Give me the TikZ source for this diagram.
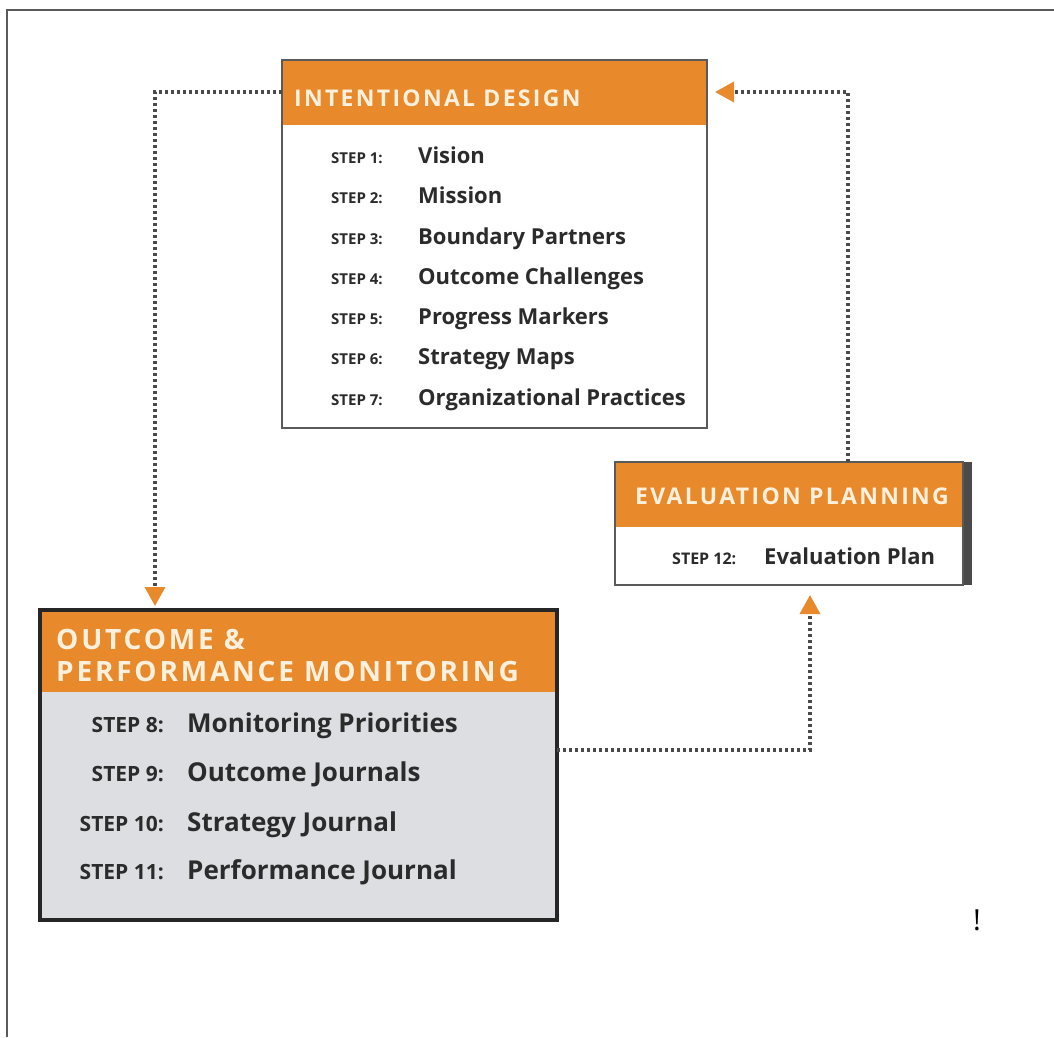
\documentclass[tikz,border=0pt]{standalone}
\usepackage{fontspec}
\setmainfont{Open Sans}
\newfontfamily\headfont[LetterSpace=10]{Open Sans}
\usetikzlibrary{arrows.meta}
\definecolor{mcorange}{HTML}{E8892B}
\definecolor{mcgray}{HTML}{DDDEE2}
\definecolor{mchead}{HTML}{FDF1DE}
\definecolor{mctext}{HTML}{2B2B2B}
\definecolor{mcdots}{HTML}{4A4A4A}
\definecolor{mcframe}{HTML}{5A5A5A}
\tikzset{
  stagebox/.style={draw=#1, inner sep=0pt, outer sep=0pt},
  headtext/.style={anchor=base west, inner sep=0pt, text=mchead, font=\headfont\bfseries\fontsize{#1}{#1}\selectfont},
  steplabel/.style={inner sep=0pt, text=mctext, font=\bfseries\fontsize{#1}{#1}\selectfont},
  stepitem/.style={anchor=base west, inner sep=0pt, text=mctext, font=\bfseries\fontsize{#1}{#1}\selectfont},
  flow/.style={draw=mcdots, line width=3.5pt, dash pattern=on 3pt off 3pt,
    -{Triangle[width=20pt,length=19pt,color=mcorange]}}
}
\begin{document}
\begin{tikzpicture}[x=1pt, y=-1pt]
\useasboundingbox (0,0) rectangle (1054,1037);
% Frame
\draw[line width=2pt, mcframe] (7,1037) -- (7,10) -- (1054,10);
% Fills
\fill[white] (282,60) rectangle (707,428);
\fill[mcorange] (282,60) rectangle (707,125);
\fill[white] (615,462) rectangle (963,585);
\fill[mcorange] (615,462) rectangle (963,527);
\fill[mcdots] (963,462) rectangle (972,585);
\fill[mcgray] (40,610) rectangle (557,920);
\fill[mcorange] (40,610) rectangle (557,692);
% Boxes
\node[stagebox=mcframe, line width=2.5pt, minimum width=425pt, minimum height=368pt, anchor=north west] (id) at (282,60) {};
\node[stagebox=mcframe, line width=2.5pt, minimum width=348pt, minimum height=123pt, anchor=north west] (ep) at (615,462) {};
\node[stagebox=black!85, line width=4pt, minimum width=517pt, minimum height=310pt, anchor=north west] (om) at (40,610) {};
% Intentional design
\node[headtext=23] (idhead) at (294,106) {INTENTIONAL DESIGN};
\node[steplabel=15, anchor=base west] (s1) at (331,163) {STEP 1:};
\node[stepitem=22] (v1) at (418,163) {Vision};
\node[steplabel=15, anchor=base west] (s2) at (331,203) {STEP 2:};
\node[stepitem=22] (v2) at (418,203) {Mission};
\node[steplabel=15, anchor=base west] (s3) at (331,244) {STEP 3:};
\node[stepitem=22] (v3) at (418,244) {Boundary Partners};
\node[steplabel=15, anchor=base west] (s4) at (331,284) {STEP 4:};
\node[stepitem=22] (v4) at (418,284) {Outcome Challenges};
\node[steplabel=15, anchor=base west] (s5) at (331,324) {STEP 5:};
\node[stepitem=22] (v5) at (418,324) {Progress Markers};
\node[steplabel=15, anchor=base west] (s6) at (331,364) {STEP 6:};
\node[stepitem=22] (v6) at (418,364) {Strategy Maps};
\node[steplabel=15, anchor=base west] (s7) at (331,405) {STEP 7:};
\node[stepitem=22] (v7) at (418,405) {Organizational Practices};
% Evaluation planning
\node[headtext=23] (ephead) at (635,504) {EVALUATION PLANNING};
\node[steplabel=16, anchor=base west] (s12) at (672,564) {STEP 12:};
\node[stepitem=22] (v12) at (764,564) {Evaluation Plan};
% Outcome & performance monitoring
\node[headtext=28] (omhead1) at (56,649) {OUTCOME \&};
\node[headtext=28] (omhead2) at (56,681) {PERFORMANCE MONITORING};
\node[steplabel=21, anchor=base east] (s8) at (164,732) {STEP 8:};
\node[stepitem=26] (v8) at (187,732) {Monitoring Priorities};
\node[steplabel=21, anchor=base east] (s9) at (164,781) {STEP 9:};
\node[stepitem=26] (v9) at (187,781) {Outcome Journals};
\node[steplabel=21, anchor=base east] (s10) at (164,831) {STEP 10:};
\node[stepitem=26] (v10) at (187,831) {Strategy Journal};
\node[steplabel=21, anchor=base east] (s11) at (164,879) {STEP 11:};
\node[stepitem=26] (v11) at (187,879) {Performance Journal};
% Connectors
\draw[flow, shorten >=4pt] ([yshift=-32pt]id.north west) -| ([xshift=115pt]om.north west);
\draw[flow, shorten >=10pt] ([yshift=-140pt]om.north east) -| ([xshift=195pt]ep.south west);
\draw[flow, shorten >=8pt] ([xshift=233pt]ep.north west) |- ([yshift=-32pt]id.north east);
% Mark
\node[inner sep=0pt, anchor=base, font=\fontsize{29}{29}\selectfont] (mark) at (977,930) {!};
\end{tikzpicture}
\end{document}
